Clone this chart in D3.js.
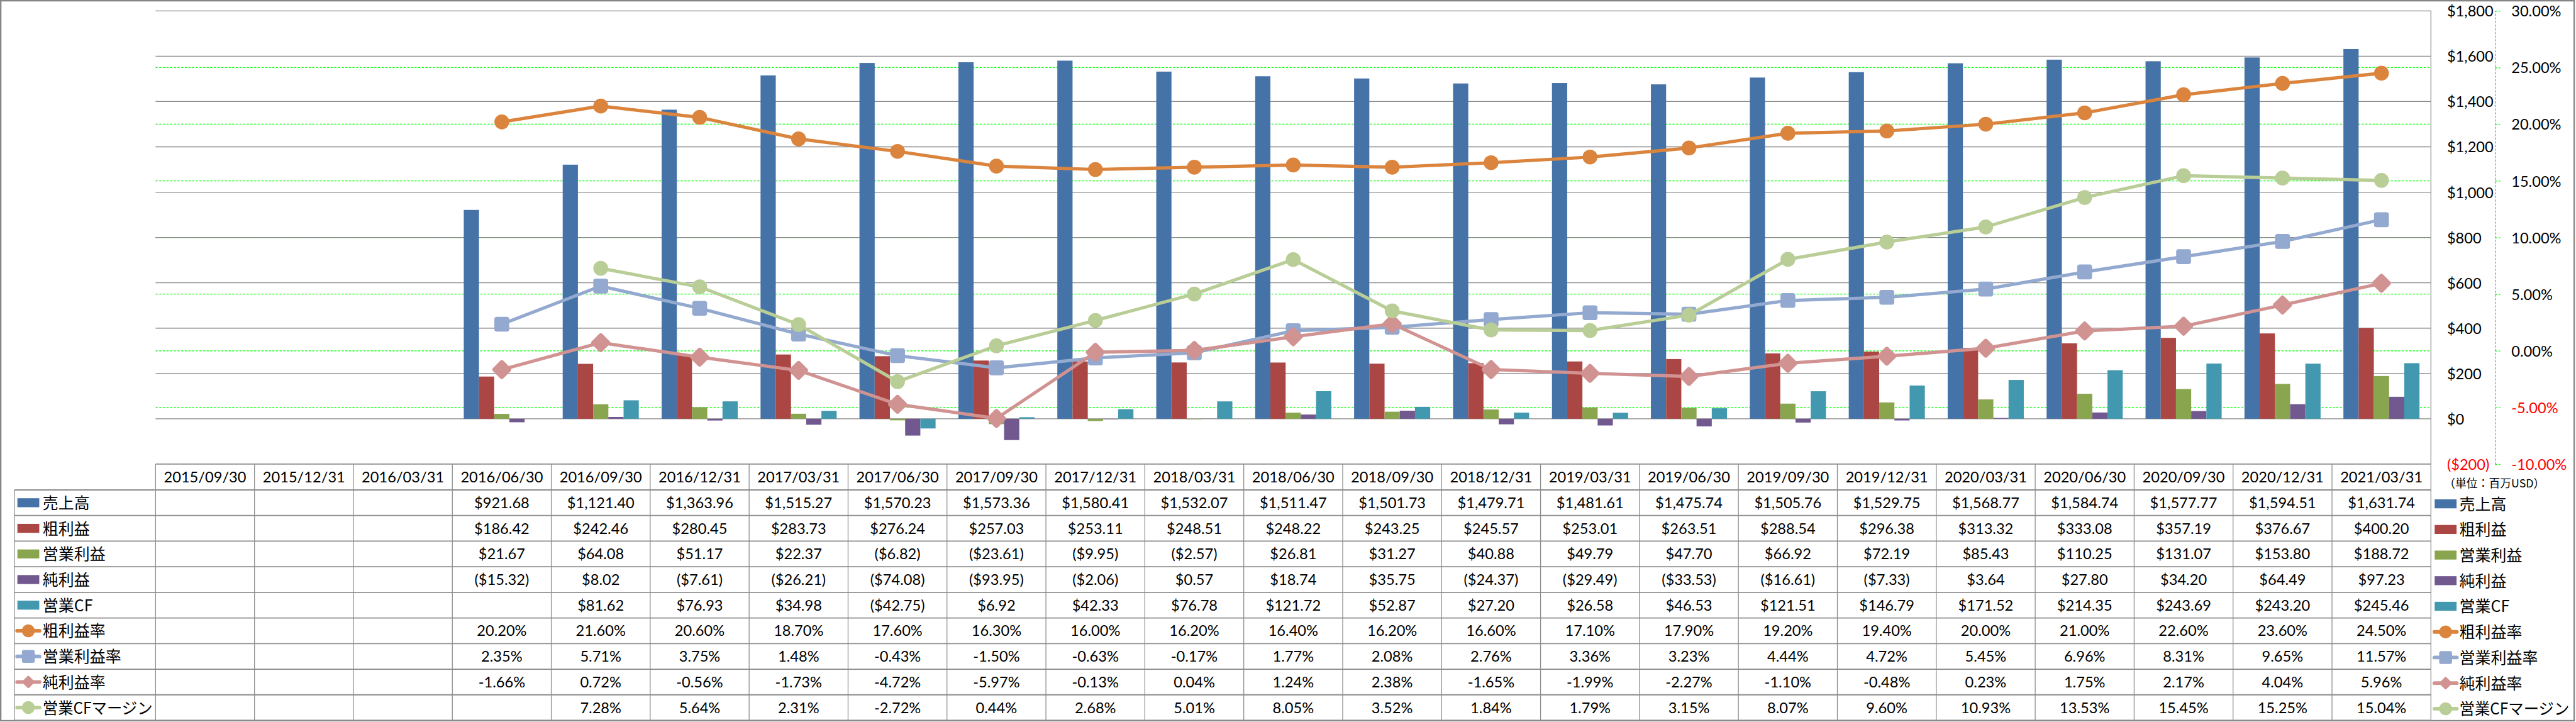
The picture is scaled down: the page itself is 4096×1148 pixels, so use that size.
<!DOCTYPE html>
<html><head><meta charset="utf-8">
<script src="https://cdn.jsdelivr.net/npm/d3@7"></script>
<style>html,body{margin:0;padding:0;background:#fff;} svg{display:block;}</style>
</head><body>
<svg id="chart" width="4096" height="1148"></svg>
<script>
// ---------- data ----------
const categories = ["2015/09/30","2015/12/31","2016/03/31","2016/06/30","2016/09/30","2016/12/31","2017/03/31","2017/06/30","2017/09/30","2017/12/31","2018/03/31","2018/06/30","2018/09/30","2018/12/31","2019/03/31","2019/06/30","2019/09/30","2019/12/31","2020/03/31","2020/06/30","2020/09/30","2020/12/31","2021/03/31"];
const sales       = [null,null,null,921.68,1121.40,1363.96,1515.27,1570.23,1573.36,1580.41,1532.07,1511.47,1501.73,1479.71,1481.61,1475.74,1505.76,1529.75,1568.77,1584.74,1577.77,1594.51,1631.74];
const grossProfit = [null,null,null,186.42,242.46,280.45,283.73,276.24,257.03,253.11,248.51,248.22,243.25,245.57,253.01,263.51,288.54,296.38,313.32,333.08,357.19,376.67,400.20];
const opProfit    = [null,null,null,21.67,64.08,51.17,22.37,-6.82,-23.61,-9.95,-2.57,26.81,31.27,40.88,49.79,47.70,66.92,72.19,85.43,110.25,131.07,153.80,188.72];
const netProfit   = [null,null,null,-15.32,8.02,-7.61,-26.21,-74.08,-93.95,-2.06,0.57,18.74,35.75,-24.37,-29.49,-33.53,-16.61,-7.33,3.64,27.80,34.20,64.49,97.23];
const opCF        = [null,null,null,null,81.62,76.93,34.98,-42.75,6.92,42.33,76.78,121.72,52.87,27.20,26.58,46.53,121.51,146.79,171.52,214.35,243.69,243.20,245.46];
const grossMargin = [null,null,null,20.20,21.60,20.60,18.70,17.60,16.30,16.00,16.20,16.40,16.20,16.60,17.10,17.90,19.20,19.40,20.00,21.00,22.60,23.60,24.50];
const opMargin    = [null,null,null,2.35,5.71,3.75,1.48,-0.43,-1.50,-0.63,-0.17,1.77,2.08,2.76,3.36,3.23,4.44,4.72,5.45,6.96,8.31,9.65,11.57];
const netMargin   = [null,null,null,-1.66,0.72,-0.56,-1.73,-4.72,-5.97,-0.13,0.04,1.24,2.38,-1.65,-1.99,-2.27,-1.10,-0.48,0.23,1.75,2.17,4.04,5.96];
const cfMargin    = [null,null,null,null,7.28,5.64,2.31,-2.72,0.44,2.68,5.01,8.05,3.52,1.84,1.79,3.15,8.07,9.60,10.93,13.53,15.45,15.25,15.04];
const dollarTicks  = [-200,0,200,400,600,800,1000,1200,1400,1600,1800];
const percentTicks = [-10,-5,0,5,10,15,20,25,30];
const unitLabel = "（単位：百万USD）";

const barSeries = [
  {name:"売上高", values:sales, color:"#4572A7"},
  {name:"粗利益", values:grossProfit, color:"#AA4643"},
  {name:"営業利益", values:opProfit, color:"#89A54E"},
  {name:"純利益", values:netProfit, color:"#71588F"},
  {name:"営業CF", values:opCF, color:"#4198AF"}
];
const lineSeries = [
  {name:"粗利益率", values:grossMargin, color:"#DB843D", marker:"circle"},
  {name:"営業利益率", values:opMargin, color:"#93A9CF", marker:"square"},
  {name:"純利益率", values:netMargin, color:"#D19392", marker:"diamond"},
  {name:"営業CFマージン", values:cfMargin, color:"#B9CD96", marker:"circle"}
];

// ---------- layout (reference pixel units, scaled by S) ----------
const S = 0.892, W = 4590, H = 1286;
const plotL = 277.3, plotR = 4333.3, plotT = 19.4, plotB = 827.3;
const legendL = 25.7, headerTop = plotB, headerBottom = 873.3, rowH = 45.65;
const tableBottom = headerBottom + 9*rowH;
const numFont = "Lato, 'Open Sans', sans-serif";
const cjkFont = "'Noto Sans CJK JP', 'Noto Sans', sans-serif";
const gridCol = "#868686", tableCol = "#8c8c8c", green = "#00ff00";

const svg = d3.select("#chart");
const g = svg.append("g").attr("transform", `scale(${S})`);

g.append("rect").attr("x",1.3).attr("y",1.3).attr("width",W-2.6).attr("height",H-2.6)
  .attr("fill","#fff").attr("stroke",gridCol).attr("stroke-width",2.6);

const x0 = d3.scaleBand().domain(categories).range([plotL, plotR]).padding(0);
const x1 = d3.scaleBand().domain(barSeries.map(d=>d.name)).range([0, x0.bandwidth()]).paddingInner(0).paddingOuter(0.75);
const yL = d3.scaleLinear().domain([-200,1800]).range([plotB, plotT]);
const yR = d3.scaleLinear().domain([-10,30]).range([plotB, plotT]);

const loc = d3.formatLocale({decimal:".", thousands:",", grouping:[3], currency:["$",""], minus:"-"});
const fmt2 = loc.format(",.2f"), fmt0 = loc.format(",.0f"), fmtP = loc.format(".2f");
const fmtDollar = v => v < 0 ? "($" + fmt2(-v) + ")" : "$" + fmt2(v);
const fmtAxisDollar = v => v < 0 ? "($" + fmt0(-v) + ")" : "$" + fmt0(v);
const fmtPct = v => fmtP(v) + "%";

// gridlines
g.append("g").selectAll("line").data(percentTicks.filter(t => t > -10 && t < 30)).join("line")
  .attr("x1",plotL).attr("x2",plotR).attr("y1",d=>yR(d)).attr("y2",d=>yR(d))
  .attr("stroke",green).attr("stroke-width",1.4).attr("stroke-dasharray","4 2.5");
g.append("g").selectAll("line").data(dollarTicks.filter(t => t > -200)).join("line")
  .attr("x1",plotL).attr("x2",plotR).attr("y1",d=>yL(d)).attr("y2",d=>yL(d))
  .attr("stroke",gridCol).attr("stroke-width",1.5);

// bars
barSeries.forEach(s => {
  g.append("g").selectAll("rect")
    .data(categories.map((c,i)=>({c, v:s.values[i]})).filter(d=>d.v!==null)).join("rect")
    .attr("x", d => x0(d.c) + x1(s.name)).attr("width", x1.bandwidth())
    .attr("y", d => yL(Math.max(0,d.v))).attr("height", d => Math.abs(yL(d.v) - yL(0)))
    .attr("fill", s.color);
});

// markers
function marker(sel, type, color, size, cx, cy) {
  if (type === "circle") {
    sel.append("circle").attr("cx",cx).attr("cy",cy).attr("r",size/2).attr("fill",color);
  } else if (type === "square") {
    sel.append("rect").attr("x",cx-size/2).attr("y",cy-size/2).attr("width",size).attr("height",size)
      .attr("rx",size*0.16).attr("fill",color);
  } else {
    const side = size/Math.SQRT2;
    sel.append("rect").attr("x",-side/2).attr("y",-side/2).attr("width",side).attr("height",side)
      .attr("rx",side*0.16).attr("fill",color)
      .attr("transform",`translate(${cx},${cy}) rotate(45)`);
  }
}

// lines
const xc = c => x0(c) + x0.bandwidth()/2;
lineSeries.forEach(s => {
  const pts = categories.map((c,i)=>({c, v:s.values[i]})).filter(d=>d.v!==null);
  const lg = g.append("g");
  lg.append("path").datum(pts)
    .attr("d", d3.line().x(d=>xc(d.c)).y(d=>yR(d.v)))
    .attr("fill","none").attr("stroke",s.color).attr("stroke-width",5.8)
    .attr("stroke-linejoin","round").attr("stroke-linecap","round");
  const msize = s.marker === "diamond" ? 37 : 26.5;
  pts.forEach(d => marker(lg, s.marker, s.color, msize, xc(d.c), yR(d.v)));
});

// axes
const gL = g.append("g").attr("transform",`translate(4362,0)`)
  .call(d3.axisRight(yL).tickValues(dollarTicks).tickSize(0).tickPadding(0).tickFormat(fmtAxisDollar));
gL.select(".domain").remove();
gL.selectAll("text").attr("font-family",numFont).attr("font-size",26.5)
  .attr("fill", d => d < 0 ? "#ff0000" : "#000").attr("dy","0.36em");

const gR = g.append("g").attr("transform",`translate(4447.7,0)`)
  .call(d3.axisRight(yR).tickValues(percentTicks).tickSizeInner(9.3).tickSizeOuter(0).tickPadding(19.7).tickFormat(fmtPct));
gR.select(".domain").attr("stroke",green).attr("stroke-width",1.4).attr("stroke-dasharray","4 2.5");
gR.selectAll(".tick line").attr("stroke",green).attr("stroke-width",1.4).attr("stroke-dasharray","4 2.5");
gR.selectAll("text").attr("font-family",numFont).attr("font-size",26.5)
  .attr("fill", d => d < 0 ? "#ff0000" : "#000").attr("dy","0.36em");

// unit label
g.append("text").attr("x",4446.5).attr("y",861.7).attr("dy","0.38em").attr("text-anchor","middle")
  .attr("font-family",cjkFont).attr("font-size",20).attr("fill","#000").text(unitLabel);

// ---------- data table ----------
const tbl = g.append("g");
tbl.append("line").attr("x1",plotL).attr("x2",plotR).attr("y1",headerTop).attr("y2",headerTop)
  .attr("stroke",tableCol).attr("stroke-width",2);
d3.range(10).forEach(i => {
  tbl.append("line").attr("x1",legendL).attr("x2",plotR)
    .attr("y1",headerBottom + i*rowH).attr("y2",headerBottom + i*rowH)
    .attr("stroke",tableCol).attr("stroke-width",2);
});
tbl.append("line").attr("x1",legendL).attr("x2",legendL).attr("y1",headerBottom).attr("y2",tableBottom)
  .attr("stroke",tableCol).attr("stroke-width",1.4);
tbl.selectAll("line.v").data(categories).join("line").attr("class","v")
  .attr("x1",d=>x0(d)).attr("x2",d=>x0(d)).attr("y1",headerTop).attr("y2",tableBottom)
  .attr("stroke",tableCol).attr("stroke-width",1.4);
tbl.append("line").attr("x1",plotR).attr("x2",plotR).attr("y1",plotT).attr("y2",tableBottom)
  .attr("stroke",tableCol).attr("stroke-width",1.4);

tbl.selectAll("text.hdr").data(categories).join("text").attr("class","hdr")
  .attr("x",d=>xc(d)).attr("y",(headerTop+headerBottom)/2).attr("dy","0.36em")
  .attr("text-anchor","middle").attr("font-family",numFont).attr("font-size",26.5).text(d=>d);

const rows = [
  ...barSeries.map(s => ({...s, kind:"bar", fmt:fmtDollar})),
  ...lineSeries.map(s => ({...s, kind:"line", fmt:fmtPct}))
];

function legendKey(sel, s, cx, cy) {
  if (s.kind === "bar") {
    sel.append("rect").attr("x",cx-19.5).attr("y",cy-8).attr("width",39).attr("height",16).attr("fill",s.color);
  } else {
    sel.append("line").attr("x1",cx-20).attr("x2",cx+20).attr("y1",cy).attr("y2",cy)
      .attr("stroke",s.color).attr("stroke-width",6.5).attr("stroke-linecap","round");
    marker(sel, s.marker, s.color, s.marker === "diamond" ? 24 : 23, cx, cy);
  }
}

rows.forEach((s, r) => {
  const cy = headerBottom + r*rowH + rowH/2;
  legendKey(tbl, s, 50.5, cy);
  const t = tbl.append("text").attr("x",76).attr("y",cy).attr("dy","0.38em")
    .attr("font-family",cjkFont).attr("font-size",28).text(s.name);
  if (t.node().getComputedTextLength() > 196) t.attr("textLength",196).attr("lengthAdjust","spacingAndGlyphs");
  tbl.append("g").selectAll("text")
    .data(categories.map((c,i)=>({c, v:s.values[i]})).filter(d=>d.v!==null)).join("text")
    .attr("x",d=>xc(d.c)).attr("y",cy).attr("dy","0.36em").attr("text-anchor","middle")
    .attr("font-family",numFont).attr("font-size",26.5).text(d=>s.fmt(d.v));
  legendKey(g, s, 4359.5, cy + 2);
  const t2 = g.append("text").attr("x",4384).attr("y",cy + 2).attr("dy","0.38em")
    .attr("font-family",cjkFont).attr("font-size",28).text(s.name);
  if (t2.node().getComputedTextLength() > 196) t2.attr("textLength",196).attr("lengthAdjust","spacingAndGlyphs");
});
</script>
</body></html>
